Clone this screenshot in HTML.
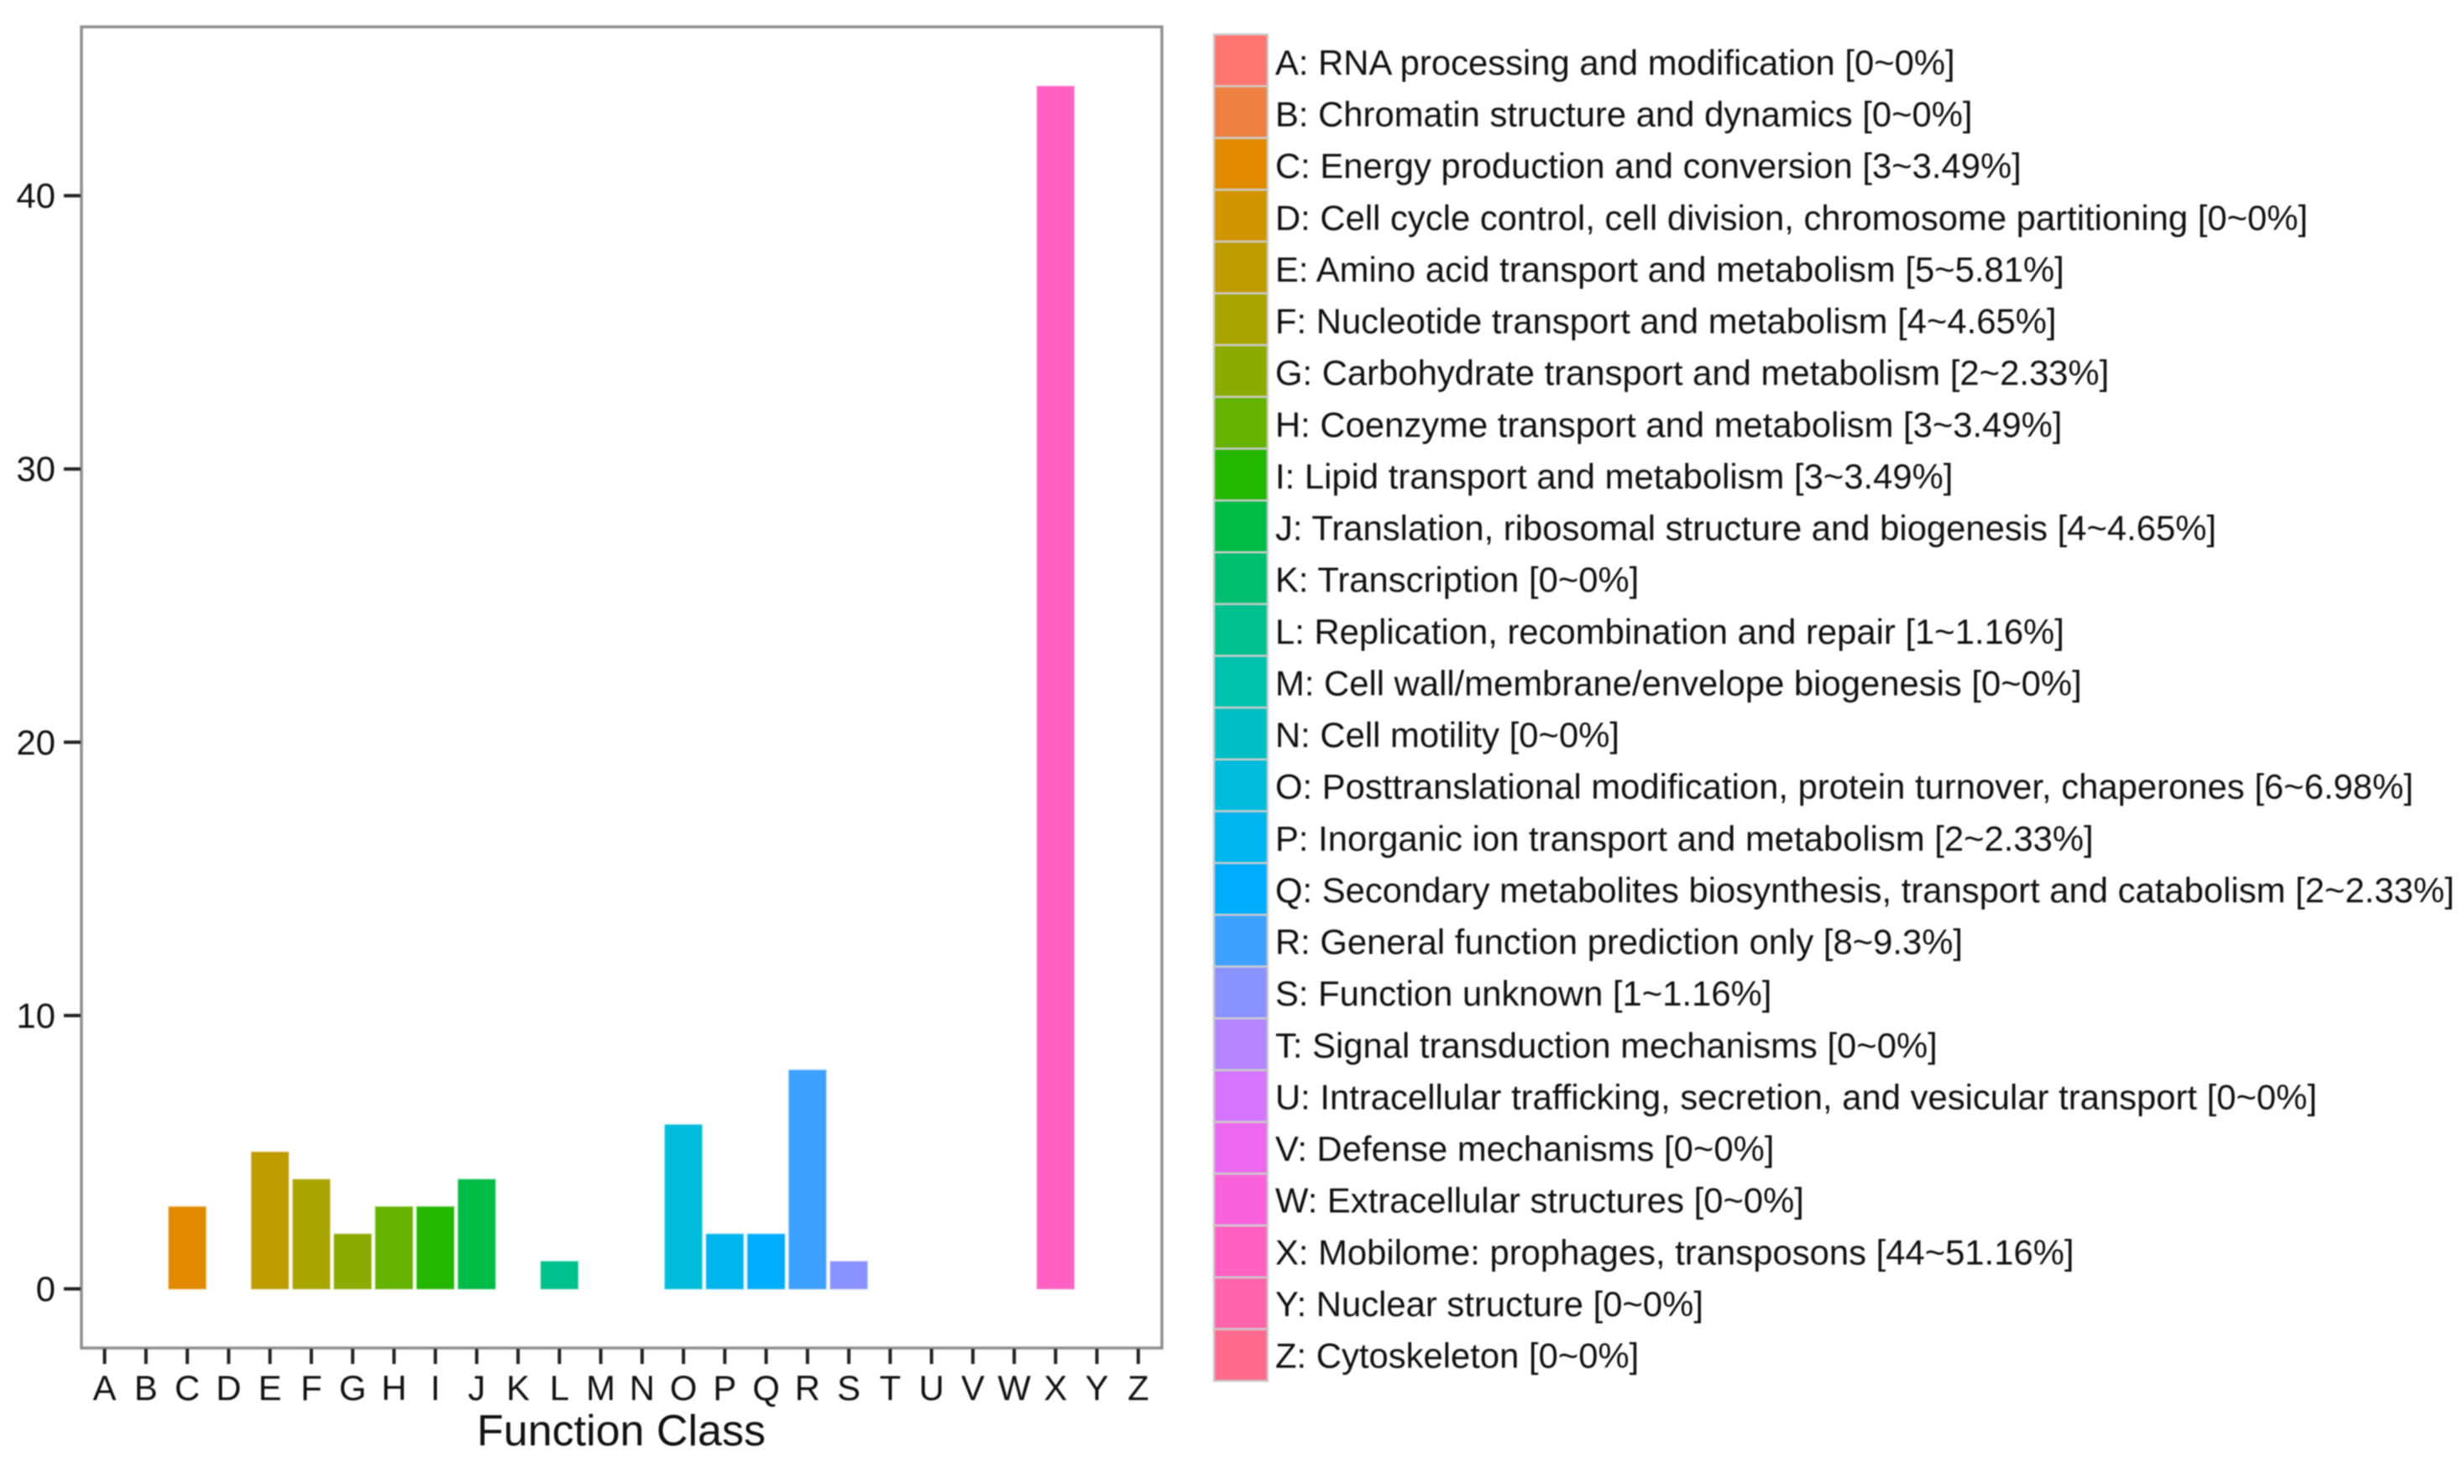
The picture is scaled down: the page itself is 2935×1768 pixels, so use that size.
<!DOCTYPE html>
<html lang="en">
<head>
<meta charset="utf-8">
<title>Function Class Bar Chart</title>
<style>
html,body{margin:0;padding:0;background:#fff;width:2935px;height:1768px;overflow:hidden}
svg{display:block;filter:blur(0.8px)}
text{font-family:"Liberation Sans",Arial,sans-serif;fill:#111}
</style>
</head>
<body>
<svg id="chart" xmlns="http://www.w3.org/2000/svg" width="2935" height="1768" viewBox="0 0 2935 1768">
  <rect x="0" y="0" width="2935" height="1768" fill="#ffffff"/>
  <rect x="97" y="32" width="1287" height="1574" fill="#ffffff" stroke="#8f8f8f" stroke-width="3.5"/>
  <text x="740" y="1722" font-size="52" text-anchor="middle">Function Class</text>
  <g id="y-axis"></g>
  <g id="x-axis"></g>
  <g id="bars"></g>
  <g id="legend"></g>
</svg>
<script>
const categories = ["A","B","C","D","E","F","G","H","I","J","K","L","M","N","O","P","Q","R","S","T","U","V","W","X","Y","Z"];
const counts = [0,0,3,0,5,4,2,3,3,4,0,1,0,0,6,2,2,8,1,0,0,0,0,44,0,0];
const percents = [0,0,3.49,0,5.81,4.65,2.33,3.49,3.49,4.65,0,1.16,0,0,6.98,2.33,2.33,9.3,1.16,0,0,0,0,51.16,0,0];
const descriptions = [
  "RNA processing and modification",
  "Chromatin structure and dynamics",
  "Energy production and conversion",
  "Cell cycle control, cell division, chromosome partitioning",
  "Amino acid transport and metabolism",
  "Nucleotide transport and metabolism",
  "Carbohydrate transport and metabolism",
  "Coenzyme transport and metabolism",
  "Lipid transport and metabolism",
  "Translation, ribosomal structure and biogenesis",
  "Transcription",
  "Replication, recombination and repair",
  "Cell wall/membrane/envelope biogenesis",
  "Cell motility",
  "Posttranslational modification, protein turnover, chaperones",
  "Inorganic ion transport and metabolism",
  "Secondary metabolites biosynthesis, transport and catabolism",
  "General function prediction only",
  "Function unknown",
  "Signal transduction mechanisms",
  "Intracellular trafficking, secretion, and vesicular transport",
  "Defense mechanisms",
  "Extracellular structures",
  "Mobilome: prophages, transposons",
  "Nuclear structure",
  "Cytoskeleton"
];
const yTicks = [0,10,20,30,40];
const barColors = ["#FF7570","#EE8042","#E18A00","#D09400","#BE9C00","#A8A400","#8CAB00","#65B200","#24B700","#00BB45","#00BE70","#00C08E","#00C1AB","#00BFC4","#00BBDA","#00B5ED","#00ACFC","#3EA1FF","#8B93FF","#B385FF","#D575FE","#EC69EF","#F962DD","#FF61C3","#FF65AC","#FF6B8C"];

const NS = "http://www.w3.org/2000/svg";
const xA = 124.6, xStep = 49.25, y0 = 1535.5, yUnit = 32.56, barW = 44;
const legendTop = 41, legendStep = 61.7, swatchX = 1446, swatchW = 64, legendTextX = 1519, legendBase = 89, legendTextStep = 61.62;

function xScale(i){ return xA + i * xStep; }
function yScale(v){ return y0 - v * yUnit; }
function make(tag, attrs, parent){
  const el = document.createElementNS(NS, tag);
  for (const k in attrs) el.setAttribute(k, attrs[k]);
  parent.appendChild(el);
  return el;
}

const yAxis = document.getElementById("y-axis");
yTicks.forEach(function(t){
  const tick = make("line", {x1:76, x2:96, y1:yScale(t), y2:yScale(t), stroke:"#222", "stroke-width":4}, yAxis);
  
  
  const label = make("text", {x:66, y:yScale(t)+14.5, "font-size":41.8, "text-anchor":"end"}, yAxis);
  label.textContent = String(t);
  
  
});

const xAxis = document.getElementById("x-axis");
categories.forEach(function(c, i){
  const tick = make("line", {x1:xScale(i), x2:xScale(i), y1:1607, y2:1625, stroke:"#222", "stroke-width":4}, xAxis);
  
  
  const label = make("text", {x:xScale(i), y:1668, "font-size":41.8, "text-anchor":"middle"}, xAxis);
  label.textContent = c;
  
  
});

const barsGroup = document.getElementById("bars");
counts.forEach(function(v, i){
  const bar = make("rect", {
    x: xScale(i) - barW / 2,
    y: yScale(v),
    width: barW,
    height: y0 - yScale(v),
    fill: barColors[i],
    stroke: barColors[i],
    "stroke-opacity": v > 0 ? 0.4 : 0,
    "stroke-width": 2
  }, barsGroup);
  
  
});

const legend = document.getElementById("legend");
categories.forEach(function(c, i){
  const swatch = make("rect", {
    x: swatchX,
    y: legendTop + i * legendStep,
    width: swatchW,
    height: legendStep,
    fill: barColors[i],
    stroke: "#cccccc",
    "stroke-width": 2.5
  }, legend);
  
  
  const label = make("text", {x:legendTextX, y:legendBase + i * legendTextStep, "font-size":41.8}, legend);
  label.textContent = c + ": " + descriptions[i] + " [" + counts[i] + "~" + percents[i] + "%]";
  
  
});
</script>
</body>
</html>
